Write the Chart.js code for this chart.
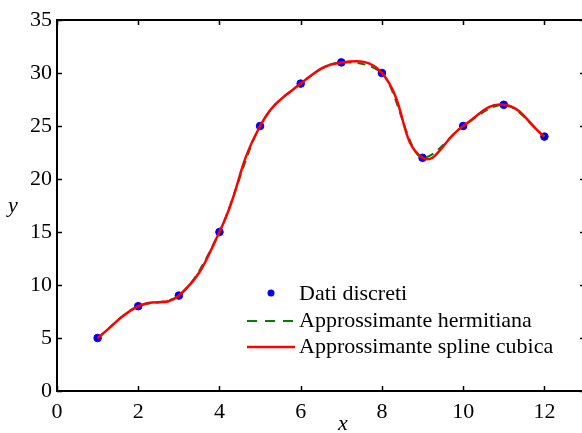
<!DOCTYPE html>
<html>
<head>
<meta charset="utf-8">
<script src="https://cdn.jsdelivr.net/npm/chart.js@4.4.1/dist/chart.umd.min.js"></script>
<style>
  html, body { margin: 0; padding: 0; background: #fff; overflow: hidden; }
  #wrap { width: 592px; height: 433px; }
</style>
</head>
<body>
<div id="wrap"><canvas id="myChart" width="592" height="433"></canvas></div>
<script>
// Dati discreti
const xValues = [1, 2, 3, 4, 5, 6, 7, 8, 9, 10, 11, 12];
const yValues = [5, 8, 9, 15, 25, 29, 31, 30, 22, 25, 27, 24];
const xTicks = [0, 2, 4, 6, 8, 10, 12];
const yTicks = [0, 5, 10, 15, 20, 25, 30, 35];
const legendLabels = ['Dati discreti', 'Approssimante hermitiana', 'Approssimante spline cubica'];

const FONT = "'Times New Roman', 'Liberation Serif', 'DejaVu Serif', serif";
const points = xValues.map((x, i) => ({ x: x, y: yValues[i] }));

// Cornice, tacche interne, titoli degli assi e legenda dentro il grafico
const framePlugin = {
  id: 'frame',
  afterDraw(chart) {
    const ctx = chart.ctx;
    const a = chart.chartArea;
    const sx = chart.scales.x, sy = chart.scales.y;
    ctx.save();
    ctx.strokeStyle = '#000';
    ctx.lineWidth = 2;
    ctx.strokeRect(a.left, a.top, a.right - a.left, a.bottom - a.top);
    ctx.lineWidth = 1.5;
    ctx.beginPath();
    xTicks.forEach(v => {
      const px = Math.round(sx.getPixelForValue(v)) + 0.5;
      ctx.moveTo(px, a.bottom); ctx.lineTo(px, a.bottom - 5);
      ctx.moveTo(px, a.top); ctx.lineTo(px, a.top + 5);
    });
    yTicks.forEach(v => {
      const py = Math.round(sy.getPixelForValue(v)) + 0.5;
      ctx.moveTo(a.left, py); ctx.lineTo(a.left + 5, py);
      ctx.moveTo(a.right, py); ctx.lineTo(a.right - 5, py);
    });
    ctx.stroke();

    // titoli assi
    ctx.fillStyle = '#000';
    ctx.font = 'italic 22px ' + FONT;
    ctx.textAlign = 'center';
    ctx.textBaseline = 'middle';
    ctx.fillText('x', 343, 424);
    ctx.fillText('y', 13, 206);

    // legenda
    const ds = chart.data.datasets;
    const rows = [294, 321, 347];
    ctx.font = '22px ' + FONT;
    ctx.textAlign = 'left';
    rows.forEach((ry, i) => {
      const d = ds[i];
      if (i === 0) {
        ctx.fillStyle = d.pointBackgroundColor;
        ctx.beginPath();
        ctx.arc(271, ry - 1, 3.5, 0, Math.PI * 2);
        ctx.fill();
      } else {
        ctx.strokeStyle = d.borderColor;
        ctx.lineWidth = d.borderWidth;
        ctx.setLineDash(i === 1 ? [10, 8] : []);
        ctx.beginPath();
        ctx.moveTo(247, ry); ctx.lineTo(295, ry);
        ctx.stroke();
        ctx.setLineDash([]);
      }
      ctx.fillStyle = '#000';
      ctx.fillText(legendLabels[i], 299, ry);
    });
    ctx.restore();
  }
};

const ctx = document.getElementById('myChart').getContext('2d');
const myChart = new Chart(ctx, {
  type: 'line',
  data: {
    datasets: [{
      label: legendLabels[0],
      data: points,
      showLine: false,
      pointRadius: 3.8,
      pointBackgroundColor: '#0000ff',
      pointBorderColor: '#0000ff',
      pointBorderWidth: 1,
      order: 3
    }, {
      label: legendLabels[1],
      data: points,
      borderColor: '#008000',
      borderWidth: 2,
      borderDash: [8, 6],
      cubicInterpolationMode: 'monotone',
      pointRadius: 0,
      fill: false,
      order: 2
    }, {
      label: legendLabels[2],
      data: points,
      borderColor: '#ff0000',
      borderWidth: 2.5,
      tension: 0.45,
      pointRadius: 0,
      fill: false,
      order: 1
    }]
  },
  options: {
    responsive: false,
    animation: false,
    events: [],
    layout: { padding: { left: 0, top: 20, right: 7, bottom: 0 } },
    plugins: { legend: { display: false }, tooltip: { enabled: false } },
    scales: {
      x: {
        type: 'linear',
        min: 0,
        max: 13,
        afterFit: s => { s.height = 42; },
        afterBuildTicks: s => { s.ticks = xTicks.map(v => ({ value: v })); },
        grid: { display: false, drawTicks: false },
        border: { display: false },
        ticks: { color: '#000', padding: 8, maxRotation: 0, font: { family: FONT, size: 22 } }
      },
      y: {
        min: 0,
        max: 35,
        afterFit: s => { s.width = 57; },
        afterBuildTicks: s => { s.ticks = yTicks.map(v => ({ value: v })); },
        grid: { display: false, drawTicks: false },
        border: { display: false },
        ticks: { color: '#000', padding: 5, font: { family: FONT, size: 22 } }
      }
    }
  },
  plugins: [framePlugin]
});
</script>
</body>
</html>
